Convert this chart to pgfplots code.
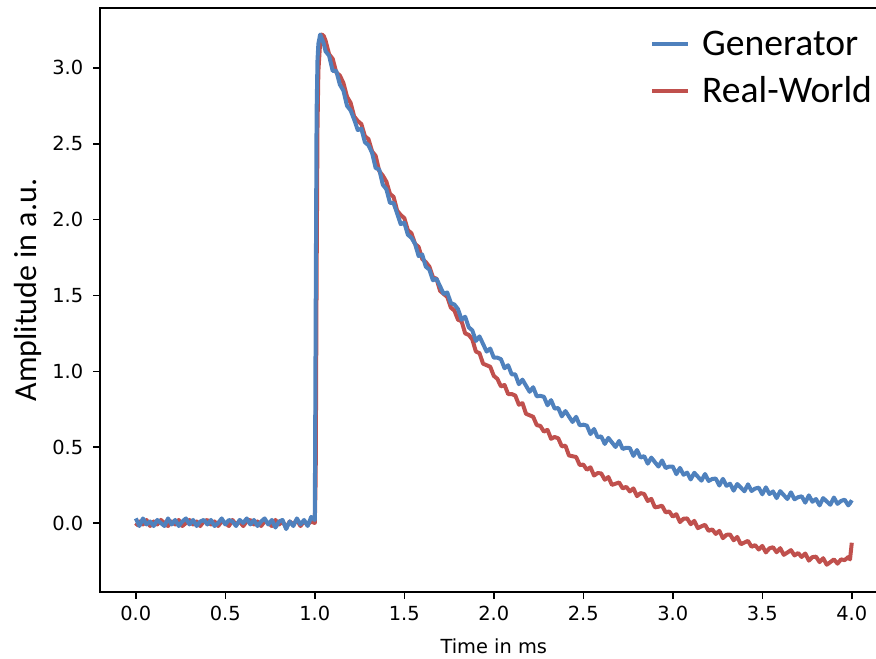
\documentclass[border=0pt]{standalone}
\usepackage{pgfplots}
\pgfplotsset{compat=1.18}
\usepackage{pgfplotstable}
\usepackage{fontspec}
\setmainfont{DejaVu Sans}
\newfontfamily\carlito{Carlito}
\definecolor{genblue}{RGB}{79,129,189}
\definecolor{realred}{RGB}{192,80,77}

\pgfplotstableread{
t gen real
0.00 0.03 -0.02
0.02 -0.02 0.01
0.04 0.03 -0.01
0.06 -0.01 0.02
0.08 0.01 -0.02
0.10 -0.02 0.01
0.12 0.02 -0.01
0.14 0.00 0.02
0.16 -0.02 0.00
0.18 0.03 -0.02
0.20 -0.01 0.01
0.22 0.02 -0.01
0.24 -0.02 0.02
0.26 0.01 -0.02
0.28 0.03 0.00
0.30 -0.01 0.02
0.32 0.02 -0.01
0.34 -0.02 0.01
0.36 0.01 -0.02
0.38 0.02 0.01
0.40 -0.01 0.02
0.42 0.02 -0.01
0.44 -0.02 0.01
0.46 0.00 -0.02
0.48 0.03 0.01
0.50 -0.01 0.00
0.52 0.02 -0.02
0.54 0.01 0.02
0.56 -0.02 -0.01
0.58 0.02 0.01
0.60 0.00 -0.02
0.62 0.03 0.01
0.64 -0.01 0.02
0.66 0.02 -0.01
0.68 -0.02 0.01
0.70 0.01 -0.02
0.72 0.03 0.01
0.74 -0.01 0.00
0.76 0.02 -0.02
0.78 -0.03 0.02
0.80 0.01 -0.01
0.82 0.02 0.01
0.84 -0.04 -0.03
0.86 0.01 0.01
0.88 -0.02 -0.01
0.90 0.03 0.02
0.92 -0.01 -0.02
0.94 0.02 0.01
0.96 -0.02 -0.01
0.98 0.04 0.01
1.000 0.02 0.00
1.005 1.40 0.30
1.010 2.70 1.60
1.015 3.05 2.60
1.020 3.16 2.98
1.030 3.22 3.17
1.040 3.19 3.22
1.050 3.16 3.21
1.060 3.11 3.18
1.08 3.08 3.09
1.10 2.98 3.06
1.12 2.98 2.97
1.14 2.89 2.95
1.16 2.85 2.90
1.18 2.75 2.81
1.20 2.72 2.77
1.22 2.66 2.68
1.24 2.59 2.65
1.26 2.60 2.63
1.28 2.51 2.55
1.30 2.49 2.53
1.32 2.44 2.45
1.34 2.34 2.42
1.36 2.33 2.32
1.38 2.23 2.29
1.40 2.20 2.25
1.42 2.11 2.17
1.44 2.11 2.15
1.46 2.04 2.06
1.48 1.97 2.03
1.50 1.98 2.01
1.52 1.90 1.93
1.54 1.88 1.91
1.56 1.84 1.84
1.58 1.76 1.82
1.60 1.77 1.74
1.62 1.69 1.72
1.64 1.67 1.69
1.66 1.60 1.62
1.68 1.61 1.61
1.70 1.56 1.53
1.72 1.51 1.51
1.74 1.52 1.49
1.76 1.45 1.42
1.78 1.44 1.40
1.80 1.41 1.34
1.82 1.34 1.33
1.84 1.36 1.25
1.86 1.29 1.24
1.88 1.27 1.21
1.90 1.20 1.13
1.92 1.23 1.12
1.94 1.18 1.05
1.96 1.13 1.04
1.98 1.15 1.03
2.00 1.09 0.97
2.02 1.09 0.95
2.04 1.08 0.90
2.06 1.02 0.91
2.08 1.04 0.85
2.10 0.98 0.85
2.12 0.98 0.84
2.14 0.915 0.78
2.16 0.945 0.79
2.18 0.905 0.72
2.20 0.865 0.71
2.22 0.895 0.70
2.24 0.835 0.645
2.26 0.838 0.64
2.28 0.832 0.602
2.30 0.776 0.614
2.32 0.810 0.555
2.34 0.754 0.567
2.36 0.758 0.558
2.38 0.703 0.505
2.40 0.738 0.51
2.42 0.702 0.445
2.44 0.666 0.44
2.46 0.700 0.435
2.48 0.644 0.382
2.50 0.648 0.385
2.52 0.642 0.351
2.54 0.586 0.367
2.56 0.620 0.313
2.58 0.565 0.329
2.60 0.571 0.327
2.62 0.521 0.285
2.64 0.561 0.303
2.66 0.531 0.251
2.68 0.501 0.259
2.70 0.541 0.267
2.72 0.488 0.228
2.74 0.496 0.238
2.76 0.494 0.208
2.78 0.442 0.228
2.80 0.481 0.177
2.82 0.431 0.197
2.84 0.441 0.191
2.86 0.391 0.145
2.88 0.431 0.159
2.90 0.401 0.103
2.92 0.372 0.107
2.94 0.412 0.114
2.96 0.362 0.070
2.98 0.372 0.076
3.00 0.372 0.042
3.02 0.322 0.058
3.04 0.363 0.006
3.06 0.318 0.028
3.08 0.332 0.030
3.10 0.287 -0.008
3.12 0.331 0.014
3.14 0.305 -0.034
3.16 0.279 -0.022
3.18 0.323 -0.012
3.20 0.277 -0.052
3.22 0.290 -0.042
3.24 0.293 -0.072
3.26 0.247 -0.052
3.28 0.291 -0.100
3.30 0.245 -0.078
3.32 0.259 -0.076
3.34 0.213 -0.114
3.36 0.257 -0.092
3.38 0.233 -0.140
3.40 0.209 -0.129
3.42 0.255 -0.118
3.44 0.211 -0.157
3.46 0.227 -0.146
3.48 0.233 -0.175
3.50 0.189 -0.151
3.52 0.235 -0.194
3.54 0.191 -0.167
3.56 0.208 -0.160
3.58 0.164 -0.193
3.60 0.210 -0.166
3.62 0.184 -0.210
3.64 0.158 -0.195
3.66 0.202 -0.179
3.68 0.156 -0.214
3.70 0.170 -0.198
3.72 0.176 -0.224
3.74 0.134 -0.201
3.76 0.182 -0.248
3.78 0.140 -0.225
3.80 0.158 -0.222
3.82 0.116 -0.258
3.84 0.164 -0.232
3.86 0.142 -0.275
3.88 0.120 -0.258
3.90 0.168 -0.240
3.92 0.126 -0.268
3.94 0.145 -0.240
3.96 0.154 -0.245
3.98 0.116 -0.225
3.99 0.130 -0.240
4.00 0.150 -0.130
}\datatable

\begin{document}
\begin{tikzpicture}
\begin{axis}[
  scale only axis,
  width=393.8pt, height=292pt,
  xmin=-0.2, xmax=4.2, ymin=-0.455, ymax=3.395,
  xtick={0,0.5,1,1.5,2,2.5,3,3.5,4},
  ytick={0,0.5,1,1.5,2,2.5,3},
  /pgf/number format/.cd, fixed, fixed zerofill, precision=1, assume math mode=true,
  /pgfplots/.cd,
  tick align=outside, tick pos=left,
  major tick length=3.4pt,
  tick style={black, line width=0.75pt},
  axis line style={black, line width=0.75pt},
  ticklabel style={font=\fontsize{9.7}{11}\selectfont},
  yticklabel style={xshift=-1.5pt},
  xlabel={Time in ms},
  xlabel style={font=\fontsize{9.7}{11}\selectfont, at={(axis description cs:0.5,-0.1045)}, anchor=base},
  ylabel={Amplitude in a.u.},
  ylabel style={font=\carlito\fontsize{16}{19}\selectfont, at={(axis description cs:-0.080,0.517)}, anchor=base},
  reverse legend,
  legend style={at={(axis description cs:0.698,0.972)}, anchor=north west, draw=none, fill=none,
    font=\carlito\fontsize{18.8}{22}\selectfont, row sep=3pt, inner sep=0pt,
    nodes={inner sep=3pt},
    /tikz/every odd column/.append style={column sep=3pt}},
  legend cell align=left,
  legend image code/.code={\draw[#1, line width=2pt] (0pt,0pt) -- (18pt,0pt);},
]
\addplot[realred, line width=2pt, line join=round] table[x=t, y=real]{\datatable};
\addlegendentry{Real-World}
\addplot[genblue, line width=2pt, line join=round] table[x=t, y=gen]{\datatable};
\addlegendentry{Generator}
\end{axis}
\pgfresetboundingbox
\path[use as bounding box] (-50pt,-33pt) rectangle (388pt,296pt);
\end{tikzpicture}
\end{document}
